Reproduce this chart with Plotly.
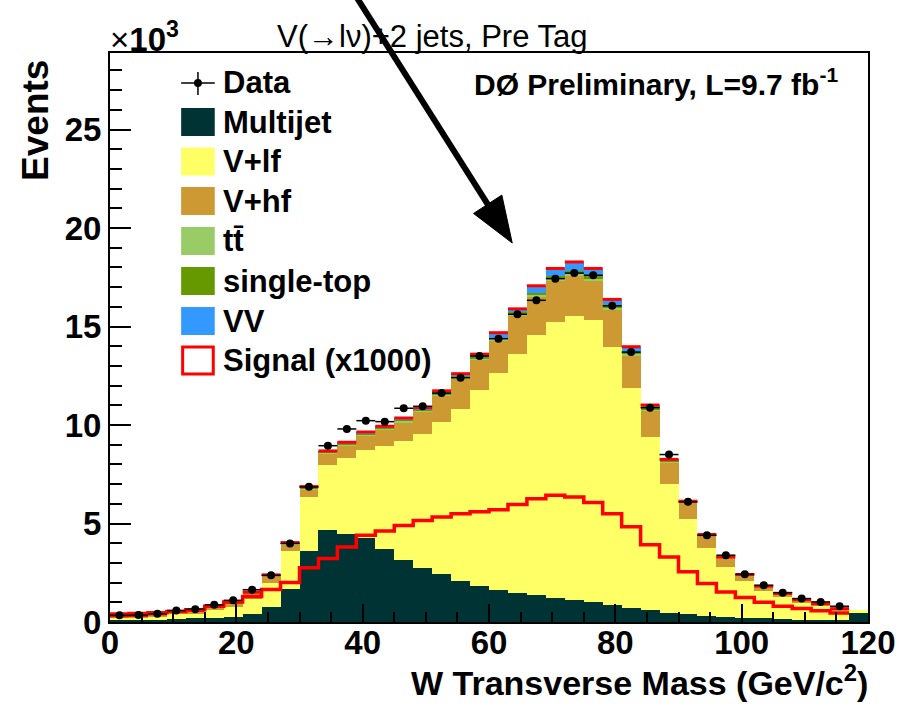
import math
import plotly.graph_objects as go

# ---- binning: W transverse mass, 3 GeV bins from 0 to 120 ----
bin_edges = list(range(0, 121, 3))
bin_centers = [e + 1.5 for e in bin_edges[:-1]]

# ---- background components (x10^3 events per bin) ----
multijet = [0.08, 0.10, 0.12, 0.15, 0.18, 0.22, 0.27, 0.39, 0.76, 1.69,
            3.59, 4.66, 4.49, 4.28, 3.73, 3.17, 2.76, 2.46, 2.08, 1.81,
            1.60, 1.47, 1.35, 1.24, 1.14, 1.02, 0.85, 0.73, 0.60, 0.46,
            0.39, 0.29, 0.25, 0.22, 0.19, 0.15, 0.12, 0.12, 0.12, 0.46]
v_lf = [0.14, 0.15, 0.17, 0.24, 0.24, 0.37, 0.49, 0.78, 1.24, 1.93,
        2.76, 3.30, 3.86, 4.47, 5.19, 6.03, 6.79, 7.71, 8.75, 9.99,
        11.04, 12.12, 13.20, 13.99, 14.38, 14.29, 13.11, 11.17, 8.79, 6.56,
        4.86, 3.49, 2.55, 1.85, 1.39, 1.12, 0.85, 0.68, 0.44, 0.17]
v_hf = [0.08, 0.07, 0.09, 0.11, 0.13, 0.16, 0.19, 0.27, 0.30, 0.30,
        0.39, 0.59, 0.62, 0.73, 0.83, 0.95, 1.11, 1.33, 1.52, 1.50,
        1.65, 1.97, 1.95, 2.12, 2.08, 2.04, 1.89, 1.64, 1.35, 1.10,
        0.80, 0.59, 0.45, 0.30, 0.20, 0.15, 0.15, 0.12, 0.11, 0.00]
ttbar = [0.01, 0.01, 0.01, 0.02, 0.02, 0.02, 0.03, 0.03, 0.04, 0.05,
         0.05, 0.05, 0.06, 0.06, 0.06, 0.07, 0.07, 0.07, 0.08, 0.08,
         0.09, 0.09, 0.10, 0.10, 0.10, 0.10, 0.09, 0.08, 0.07, 0.05,
         0.04, 0.03, 0.03, 0.02, 0.02, 0.01, 0.01, 0.01, 0.01, 0.00]
single_top = [0.00, 0.00, 0.01, 0.01, 0.01, 0.01, 0.01, 0.02, 0.02, 0.02,
              0.03, 0.03, 0.03, 0.03, 0.04, 0.04, 0.04, 0.05, 0.05, 0.06,
              0.06, 0.07, 0.08, 0.09, 0.10, 0.09, 0.08, 0.07, 0.05, 0.03,
              0.02, 0.02, 0.01, 0.01, 0.01, 0.01, 0.00, 0.00, 0.00, 0.00]
diboson = [0.00, 0.00, 0.01, 0.01, 0.01, 0.02, 0.02, 0.03, 0.03, 0.04,
           0.05, 0.05, 0.06, 0.07, 0.08, 0.09, 0.10, 0.11, 0.12, 0.15,
           0.24, 0.17, 0.38, 0.40, 0.47, 0.40, 0.35, 0.28, 0.15, 0.05,
           0.02, 0.02, 0.01, 0.01, 0.01, 0.01, 0.00, 0.00, 0.00, 0.00]

# ---- signal, scaled by 1000 (x10^3 events per bin) ----
signal_x1000 = [0.40, 0.43, 0.47, 0.53, 0.62, 0.80, 1.02, 1.30, 1.65, 2.00,
                2.75, 3.22, 3.81, 4.40, 4.62, 4.90, 5.15, 5.33, 5.50, 5.60,
                5.70, 5.97, 6.26, 6.43, 6.34, 6.06, 5.50, 4.84, 3.92, 3.30,
                2.55, 1.95, 1.52, 1.25, 1.00, 0.80, 0.68, 0.57, 0.46, None]

# ---- observed data (x10^3 events per bin) ----
data = [0.34, 0.35, 0.42, 0.58, 0.65, 0.87, 1.10, 1.64, 2.37, 3.99,
        6.86, 8.95, 9.80, 10.22, 10.17, 10.85, 10.95, 11.62, 12.40, 13.50,
        14.38, 15.62, 16.33, 17.43, 17.71, 17.60, 16.05, 13.70, 10.88, 8.50,
        6.10, 4.40, 3.39, 2.42, 1.86, 1.49, 1.19, 1.02, 0.80, None]

x_ticks = [0, 20, 40, 60, 80, 100, 120]
y_ticks = [0, 5, 10, 15, 20, 25]

COLORS = {
    "Multijet": "#003333",
    "V+lf": "#FFFF66",
    "V+hf": "#CC9933",
    "tt̄": "#99CC66",
    "single-top": "#669900",
    "VV": "#3399FF",
}
SIGNAL_RED = "#FF0000"
FONT = "Liberation Sans, Arial, Helvetica, sans-serif"

components = [
    ("Multijet", multijet),
    ("V+lf", v_lf),
    ("V+hf", v_hf),
    ("tt̄", ttbar),
    ("single-top", single_top),
    ("VV", diboson),
]

fig = go.Figure()

# stacked background histograms
for name, vals in components:
    fig.add_trace(go.Bar(
        x=bin_centers, y=vals, width=3, name=name,
        marker=dict(color=COLORS[name], line=dict(width=0)),
        showlegend=False,
    ))

# stacked signal sits on top of the background: its outline is a red cap per bin
stack_top = []
for i in range(len(bin_centers)):
    tot = sum(vals[i] for _, vals in components)
    s = signal_x1000[i]
    tot += (s / 1000.0) if s is not None else 0.0
    stack_top.append(tot)
cap_x, cap_y = [], []
for i, top in enumerate(stack_top):
    if signal_x1000[i] is None:
        continue
    cap_x += [bin_edges[i], bin_edges[i + 1], None]
    cap_y += [top, top, None]
fig.add_trace(go.Scatter(x=cap_x, y=cap_y, mode="lines",
                         line=dict(color=SIGNAL_RED, width=3),
                         showlegend=False, hoverinfo="skip"))

# signal x1000 drawn as a step outline
sig_x, sig_y = [], []
for i, s in enumerate(signal_x1000):
    if s is None:
        continue
    sig_x.append(bin_edges[i])
    sig_y.append(s)
sig_x.append(bin_edges[len(sig_y)])
sig_y.append(sig_y[-1])
fig.add_trace(go.Scatter(x=sig_x, y=sig_y, mode="lines", line_shape="hv",
                         line=dict(color=SIGNAL_RED, width=3.5),
                         showlegend=False, hoverinfo="skip"))

# data points with statistical errors
dx, dy, ex, ey = [], [], [], []
for c, d in zip(bin_centers, data):
    if d is None:
        continue
    dx.append(c)
    dy.append(d)
    ex.append(1.5)
    ey.append(math.sqrt(d * 1000.0) / 1000.0)
fig.add_trace(go.Scatter(
    x=dx, y=dy, mode="markers",
    marker=dict(color="black", size=8, symbol="circle"),
    error_x=dict(type="data", array=ex, color="black", thickness=1.5, width=0),
    error_y=dict(type="data", array=ey, color="black", thickness=1.5, width=0),
    showlegend=False, hoverinfo="skip",
))

# ---- layout geometry (pixels) ----
W, H = 908, 707
L, R, T, B = 110, 877, 53, 622


def px(X):
    return (X - L) / (R - L)


def py(Y):
    return (B - Y) / (B - T)


shapes = []
annotations = []

# hand-built legend
leg_x0, leg_x1, text_x = 182, 216, 222
# Data entry: cross with a dot
shapes.append(dict(type="line", xref="paper", yref="paper",
                   x0=px(leg_x0), x1=px(leg_x1), y0=py(83), y1=py(83),
                   line=dict(color="black", width=1.5)))
shapes.append(dict(type="line", xref="paper", yref="paper",
                   x0=px(199), x1=px(199), y0=py(72), y1=py(95),
                   line=dict(color="black", width=1.5)))
shapes.append(dict(type="circle", xref="paper", yref="paper",
                   x0=px(195), x1=px(203), y0=py(87), y1=py(79),
                   fillcolor="black", line=dict(color="black", width=0)))
annotations.append(dict(text="Data", x=px(text_x), y=py(83), xref="paper", yref="paper",
                        xanchor="left", yanchor="middle", showarrow=False,
                        font=dict(family=FONT, size=31, color="black", weight="bold")))
row_y = [122, 161.5, 201, 241, 281, 321]
for (name, _), yc in zip(components, row_y):
    shapes.append(dict(type="rect", xref="paper", yref="paper",
                       x0=px(leg_x0), x1=px(leg_x1), y0=py(yc + 14), y1=py(yc - 14),
                       fillcolor=COLORS[name], line=dict(width=0)))
    annotations.append(dict(text=name, x=px(text_x), y=py(yc), xref="paper", yref="paper",
                            xanchor="left", yanchor="middle", showarrow=False,
                            font=dict(family=FONT, size=31, color="black", weight="bold")))
shapes.append(dict(type="rect", xref="paper", yref="paper",
                   x0=px(leg_x0 + 1.5), x1=px(leg_x1 - 1.5), y0=py(374), y1=py(347),
                   fillcolor="white", line=dict(color=SIGNAL_RED, width=3)))
annotations.append(dict(text="Signal (x1000)", x=px(text_x), y=py(360), xref="paper", yref="paper",
                        xanchor="left", yanchor="middle", showarrow=False,
                        font=dict(family=FONT, size=31, color="black", weight="bold")))

# titles and labels
annotations.append(dict(text="V(→lν)+2 jets, Pre Tag", x=px(436), y=py(36),
                        xref="paper", yref="paper", xanchor="center", yanchor="middle",
                        showarrow=False,
                        font=dict(family=FONT, size=31, color="black", weight="normal")))
annotations.append(dict(text="<span style='font-weight:normal'>×</span>10<sup>3</sup>",
                        x=px(108), y=py(37),
                        xref="paper", yref="paper", xanchor="left", yanchor="middle",
                        showarrow=False,
                        font=dict(family=FONT, size=33, color="black", weight="bold")))
annotations.append(dict(text="DØ Preliminary, L=9.7 fb<sup>-1</sup>", x=px(849), y=py(82),
                        xref="paper", yref="paper", xanchor="right", yanchor="middle",
                        showarrow=False,
                        font=dict(family=FONT, size=30, color="black", weight="bold")))
annotations.append(dict(text="Events", x=px(34), y=py(120), textangle=-90,
                        xref="paper", yref="paper", xanchor="center", yanchor="middle",
                        showarrow=False,
                        font=dict(family=FONT, size=37, color="black", weight="bold")))
annotations.append(dict(text="W Transverse Mass (GeV/c<sup>2</sup>)", x=px(879), y=py(680),
                        xref="paper", yref="paper", xanchor="right", yanchor="middle",
                        showarrow=False,
                        font=dict(family=FONT, size=34, color="black", weight="bold")))

# pointer arrow
tail = (360, -2)
tip = (517, 243)
ux, uy = tip[0] - tail[0], tip[1] - tail[1]
ln = math.hypot(ux, uy)
ux, uy = ux / ln, uy / ln
nx, ny = -uy, ux
head_len, head_half = 46, 17
bx, by = tip[0] - head_len * ux, tip[1] - head_len * uy
shapes.append(dict(type="line", xref="paper", yref="paper",
                   x0=px(tail[0]), y0=py(tail[1]), x1=px(bx + 4 * ux), y1=py(by + 4 * uy),
                   line=dict(color="black", width=6)))
w1 = (bx + head_half * nx, by + head_half * ny)
w2 = (bx - head_half * nx, by - head_half * ny)
shapes.append(dict(type="path", xref="paper", yref="paper",
                   path=f"M {px(tip[0])},{py(tip[1])} L {px(w1[0])},{py(w1[1])} "
                        f"L {px(w2[0])},{py(w2[1])} Z",
                   fillcolor="black", line=dict(color="black", width=1)))

fig.update_layout(
    width=W, height=H,
    margin=dict(l=L, r=W - R, t=T, b=H - B, pad=0),
    paper_bgcolor="white", plot_bgcolor="white",
    barmode="stack", bargap=0,
    showlegend=False,
    shapes=shapes,
    annotations=annotations,
    font=dict(family=FONT, color="black"),
)
fig.update_xaxes(
    range=[0, 120], tickvals=x_ticks, ticktext=[str(v) for v in x_ticks],
    ticks="inside", ticklen=18, tickwidth=1.5, tickcolor="black",
    ticklabelstandoff=-10,
    minor=dict(dtick=5, tick0=0, ticks="inside", ticklen=10, tickwidth=1.5, tickcolor="black"),
    showline=True, linecolor="black", linewidth=2, mirror=True,
    showgrid=False, zeroline=False,
    tickfont=dict(family=FONT, size=33, color="black", weight="bold"),
)
fig.update_yaxes(
    range=[0, (B - T) / 19.7], tickvals=y_ticks, ticktext=[str(v) for v in y_ticks],
    ticks="inside", ticklen=21, tickwidth=1.5, tickcolor="black",
    minor=dict(dtick=1, tick0=0, ticks="inside", ticklen=12, tickwidth=1.5, tickcolor="black"),
    showline=True, linecolor="black", linewidth=2, mirror=True,
    showgrid=False, zeroline=False,
    tickfont=dict(family=FONT, size=33, color="black", weight="bold"),
)

fig.write_html("out.html")
